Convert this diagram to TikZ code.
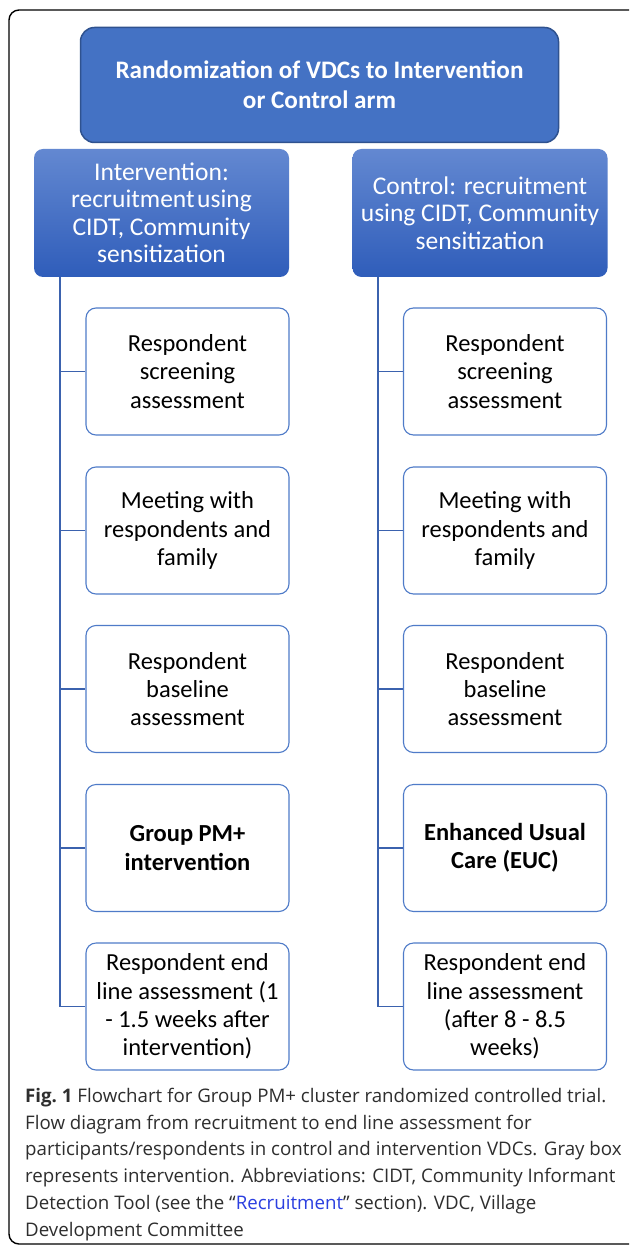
\documentclass[tikz,border=0pt]{standalone}
\usepackage{fontspec}
\setmainfont{Carlito}
\newfontfamily\capfont{Open Sans}
\definecolor{topfill}{HTML}{4472C4}
\definecolor{topedge}{HTML}{2F528F}
\definecolor{armtop}{HTML}{6388D1}
\definecolor{armbot}{HTML}{2F5DBA}
\definecolor{boxedge}{HTML}{4F7BC8}
\definecolor{linkblue}{HTML}{3B62AE}
\definecolor{refblue}{HTML}{2B3FE0}
\tikzset{
  topbox/.style={draw=topedge, line width=1.5pt, fill=topfill, rounded corners=14pt, minimum width=478pt, minimum height=115pt, align=center, text=white, font=\fontsize{25.2}{30}\selectfont\bfseries, inner sep=0pt},
  armbox/.style={rounded corners=9pt, top color=armtop, bottom color=armbot, minimum width=255pt, minimum height=128pt, align=center, text=white, font=\fontsize{25.5}{27.5}\selectfont, inner sep=0pt},
  stepbox/.style={draw=boxedge, line width=1.1pt, fill=white, rounded corners=10pt, minimum width=203pt, minimum height=127pt, align=center, text=black, font=\fontsize{24.5}{28.3}\selectfont, inner sep=0pt},
  conn/.style={draw=linkblue, line width=1.2pt},
}
\begin{document}
\begin{tikzpicture}[x=1pt,y=-1pt]
\clip (0,0) rectangle (629,1246);
\fill[white] (0,0) rectangle (629,1246);
\draw[black, line width=1.4pt, rounded corners=10pt] (9,10) rectangle (650,1244);

\node[topbox] (top) at (319.5,85) {Randomization of VDCs to Intervention\\or Control arm};
\node[armbox] (int) at (161.5,213) {Intervention:\\recruitment\hspace{0.1em}using\\CIDT, Community\\sensitization};
\node[armbox] (ctl) at (480,213) {Control: recruitment\\using CIDT, Community\\sensitization};

\node[stepbox] (i1) at (187.5,371.5) {Respondent\\screening\\assessment};
\node[stepbox] (i2) at (187.5,530.5) {Meeting with\\respondents and\\family};
\node[stepbox] (i3) at (187.5,689) {Respondent\\baseline\\assessment};
\node[stepbox] (i4) at (187.5,848) {\bfseries Group PM+\\\bfseries intervention};
\node[stepbox] (i5) at (187.5,1006.5) {Respondent end\\line assessment (1\\- 1.5 weeks after\\intervention)};

\node[stepbox] (c1) at (505,371.5) {Respondent\\screening\\assessment};
\node[stepbox] (c2) at (505,530.5) {Meeting with\\respondents and\\family};
\node[stepbox] (c3) at (505,689) {Respondent\\baseline\\assessment};
\node[stepbox] (c4) at (505,848) {\bfseries Enhanced Usual\\\bfseries Care (EUC)};
\node[stepbox] (c5) at (505,1006.5) {Respondent end\\line assessment\\(after 8 - 8.5\\weeks)};

\coordinate (itop) at (60,277);
\coordinate (ctop) at (378,277);
\foreach \b in {i1,i2,i3,i4,i5} {\draw[conn] (itop) |- (\b.west);}
\foreach \b in {c1,c2,c3,c4,c5} {\draw[conn] (ctop) |- (\b.west);}

\node[anchor=north west, align=left, inner sep=0pt, font=\capfont\fontsize{18.7}{26.7}\selectfont, text=black!82] (cap) at (25,1088)
{{\bfseries Fig.\ 1} Flowchart for Group PM+ cluster randomized controlled trial.\\
Flow diagram from recruitment to end line assessment for\\
participants/respondents in control and intervention VDCs. Gray box\\
represents intervention. Abbreviations: CIDT, Community Informant\\
Detection Tool (see the “\textcolor{refblue}{Recruitment}” section). VDC, Village\\
Development Committee};
\end{tikzpicture}
\end{document}
